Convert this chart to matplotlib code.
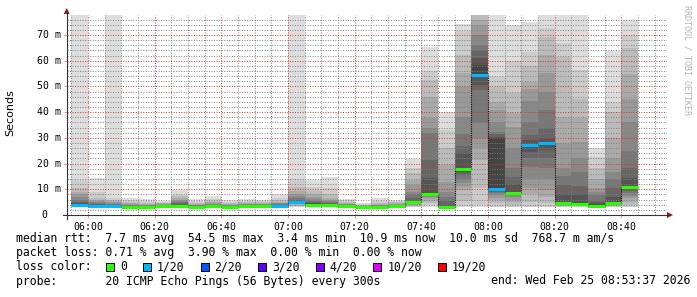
import numpy as np
import pandas as pd
import matplotlib
matplotlib.use("Agg")
import matplotlib.pyplot as plt
import matplotlib.dates as mdates
from matplotlib.patches import Rectangle, Polygon
from matplotlib.lines import Line2D
from matplotlib.ticker import MultipleLocator

# 20 sorted ping rtts (ms) per 5 min step, starting 05:55
first_step = "2026-02-25 05:55"
smoke = [
    [3.0, 3.2, 3.4, 3.5, 3.6, 3.7, 3.8, 3.8, 3.9, 3.9, 4.0, 4.5, 5.0, 6.0, 7.0, 8.0, 9.0, 10.5, 13.6, 80],
    [3.0, 3.2, 3.3, 3.4, 3.5, 3.5, 3.6, 3.6, 3.6, 3.6, 3.7, 3.9, 4.2, 4.5, 5.0, 5.5, 6.0, 6.5, 9.0, 14.4],
    [3.0, 3.2, 3.3, 3.4, 3.5, 3.5, 3.5, 3.6, 3.6, 3.6, 3.7, 3.8, 4.0, 4.3, 4.6, 5.0, 5.5, 6.0, 6.5, 80],
    [3.0, 3.0, 3.1, 3.1, 3.2, 3.2, 3.2, 3.3, 3.3, 3.3, 3.4, 3.5, 3.6, 3.8, 4.0, 4.3, 4.6, 5.0, 5.8, 6.6],
    [2.9, 3.0, 3.0, 3.1, 3.1, 3.1, 3.2, 3.2, 3.2, 3.2, 3.3, 3.4, 3.5, 3.6, 3.8, 4.0, 4.3, 4.8, 5.4, 6.1],
    [2.9, 3.0, 3.1, 3.2, 3.3, 3.3, 3.4, 3.4, 3.4, 3.5, 3.6, 3.7, 3.8, 3.9, 4.0, 4.2, 4.5, 4.8, 5.1, 5.4],
    [3.0, 3.1, 3.2, 3.3, 3.4, 3.4, 3.5, 3.5, 3.5, 3.5, 3.6, 4.0, 4.5, 5.0, 5.5, 6.0, 6.5, 7.2, 7.8, 9.7],
    [3.0, 3.0, 3.1, 3.1, 3.2, 3.2, 3.3, 3.3, 3.3, 3.3, 3.4, 3.5, 3.6, 3.7, 3.8, 4.0, 4.3, 4.8, 5.5, 6.2],
    [3.0, 3.1, 3.2, 3.2, 3.3, 3.3, 3.3, 3.4, 3.4, 3.4, 3.5, 3.6, 3.8, 4.0, 4.3, 4.6, 5.0, 5.5, 6.2, 7.4],
    [2.9, 3.0, 3.0, 3.1, 3.1, 3.1, 3.2, 3.2, 3.2, 3.2, 3.3, 3.4, 3.5, 3.6, 3.8, 4.0, 4.3, 4.7, 5.2, 5.8],
    [3.0, 3.1, 3.2, 3.2, 3.3, 3.3, 3.3, 3.4, 3.4, 3.4, 3.5, 3.6, 3.7, 3.9, 4.1, 4.4, 4.7, 5.1, 5.6, 6.2],
    [3.1, 3.2, 3.3, 3.4, 3.4, 3.5, 3.5, 3.5, 3.6, 3.6, 3.7, 3.8, 3.9, 4.0, 4.2, 4.4, 4.7, 5.0, 5.4, 5.8],
    [3.0, 3.1, 3.2, 3.3, 3.4, 3.4, 3.5, 3.5, 3.6, 3.6, 3.7, 3.8, 4.0, 4.2, 4.5, 4.8, 5.2, 5.8, 6.5, 8.2],
    [3.0, 3.3, 3.6, 4.0, 4.3, 4.6, 4.8, 5.0, 5.1, 5.2, 5.3, 5.6, 6.0, 6.6, 7.3, 8.2, 9.5, 11.0, 14.0, 80],
    [3.0, 3.2, 3.4, 3.5, 3.6, 3.7, 3.8, 3.9, 3.9, 4.0, 4.1, 4.5, 5.0, 5.5, 6.2, 7.0, 8.0, 9.5, 10.8, 13.6],
    [3.0, 3.2, 3.4, 3.5, 3.6, 3.7, 3.8, 3.9, 3.9, 4.0, 4.1, 4.3, 4.6, 5.0, 5.5, 6.0, 6.8, 8.0, 10.5, 14.9],
    [3.0, 3.0, 3.1, 3.2, 3.2, 3.3, 3.3, 3.4, 3.4, 3.5, 3.5, 3.6, 3.7, 3.9, 4.1, 4.4, 4.8, 5.2, 5.7, 6.3],
    [2.9, 3.0, 3.0, 3.0, 3.1, 3.1, 3.1, 3.1, 3.2, 3.2, 3.2, 3.3, 3.3, 3.4, 3.5, 3.6, 3.8, 4.0, 4.4, 4.8],
    [2.9, 3.0, 3.0, 3.0, 3.1, 3.1, 3.1, 3.1, 3.2, 3.2, 3.2, 3.3, 3.4, 3.5, 3.7, 3.9, 4.3, 4.8, 5.5, 6.5],
    [3.0, 3.1, 3.1, 3.2, 3.2, 3.3, 3.3, 3.4, 3.4, 3.4, 3.5, 3.6, 3.7, 3.8, 4.0, 4.2, 4.5, 4.9, 5.3, 5.8],
    [3.0, 3.2, 3.5, 3.8, 4.0, 4.2, 4.4, 4.6, 4.7, 4.8, 5.0, 5.5, 6.5, 8.0, 9.1, 11.7, 13.6, 16.2, 18.2, 21.8],
    [3.2, 3.8, 4.5, 5.5, 6.5, 7.0, 7.4, 7.8, 8.0, 8.2, 8.4, 14.3, 21.4, 31.8, 33.7, 37.6, 45.8, 52.5, 56.0, 65.5],
    [2.8, 2.9, 2.9, 3.0, 3.0, 3.1, 3.1, 3.1, 3.2, 3.2, 3.3, 4.0, 5.5, 7.1, 9.1, 13.0, 19.4, 25.9, 33.0, 39.9],
    [3.0, 3.5, 5.5, 9.7, 11.0, 12.5, 14.0, 15.6, 16.8, 17.9, 18.2, 24.0, 27.0, 31.5, 38.2, 49.9, 55.1, 62.2, 71.7, 74.3],
    [3.0, 3.9, 10.5, 21.4, 26.0, 30.0, 35.8, 48.6, 50.5, 53.7, 58.3, 61.0, 64.2, 66.1, 70.0, 73.9, 76.0, 77.8, 80, 82],
    [3.0, 3.2, 4.5, 5.8, 6.8, 7.8, 8.5, 9.0, 9.6, 10.0, 29.8, 30.5, 31.5, 32.4, 36.0, 40.8, 44.1, 49.9, 53.8, 80],
    [3.0, 3.2, 4.0, 5.0, 6.0, 7.1, 7.6, 8.0, 8.4, 8.6, 8.8, 12.0, 14.9, 18.2, 25.9, 34.4, 39.5, 47.3, 60.0, 73.9],
    [3.0, 3.2, 5.2, 8.0, 10.4, 14.0, 18.8, 22.0, 24.6, 26.5, 27.8, 29.0, 31.1, 36.3, 44.5, 49.0, 51.9, 58.0, 63.5, 75.2],
    [3.0, 3.2, 4.5, 7.0, 9.7, 14.0, 18.2, 22.0, 25.3, 27.5, 28.5, 30.0, 33.7, 40.8, 48.0, 55.1, 62.2, 69.4, 72.6, 80],
    [3.0, 3.2, 3.4, 3.6, 3.8, 4.0, 4.1, 4.2, 4.3, 4.4, 4.6, 8.0, 11.7, 15.0, 18.2, 28.0, 38.2, 61.6, 66.8, 80],
    [3.0, 3.2, 3.4, 3.6, 3.7, 3.8, 3.9, 4.0, 4.1, 4.2, 4.4, 8.0, 11.3, 16.8, 22.0, 28.5, 37.6, 45.0, 56.4, 80],
    [2.8, 2.9, 3.0, 3.1, 3.2, 3.2, 3.3, 3.4, 3.4, 3.5, 3.6, 4.5, 5.5, 7.8, 9.1, 10.4, 14.0, 18.2, 22.7, 25.9],
    [3.0, 3.2, 3.4, 3.6, 3.8, 4.0, 4.1, 4.2, 4.3, 4.4, 4.6, 7.0, 10.4, 14.0, 16.8, 22.0, 30.0, 40.2, 44.1, 63.9],
    [3.0, 3.2, 4.0, 5.0, 6.5, 7.5, 8.5, 9.5, 10.2, 10.7, 10.9, 14.3, 18.2, 25.0, 36.3, 45.0, 55.0, 64.8, 70.0, 75.8],
]
median_ms = [3.9, 3.6, 3.6, 3.3, 3.2, 3.5, 3.5, 3.3, 3.4, 3.2, 3.4, 3.6, 3.6, 5.2, 4.0, 4.0, 3.5,
             3.2, 3.2, 3.5, 4.9, 8.2, 3.2, 18.0, 54.5, 10.2, 8.7, 27.3, 28.1, 4.5, 4.3, 3.5, 4.5, 10.8]
lost = [1, 1, 1, 0, 0, 0, 0, 0, 0, 0, 0, 0, 1, 1, 0, 0, 0,
        0, 0, 0, 0, 0, 0, 0, 1, 1, 0, 1, 1, 0, 0, 0, 0, 0]

loss_levels = [0, 1, 2, 3, 4, 10, 19]
loss_labels = ["0", "1/20", "2/20", "3/20", "4/20", "10/20", "19/20"]
loss_colors = ["#26ff00", "#00b8ff", "#0059ff", "#5e00ff", "#7e00ff", "#dd00ff", "#ff0000"]

yticks = [0, 10, 20, 30, 40, 50, 60, 70]
ytick_labels = ["0", "10 m", "20 m", "30 m", "40 m", "50 m", "60 m", "70 m"]

legend_lines = [
    "median rtt:  7.7 ms avg  54.5 ms max  3.4 ms min  10.9 ms now  10.0 ms sd  768.7 m am/s",
    "packet loss: 0.71 % avg  3.90 % max  0.00 % min  0.00 % now",
    "loss color:",
    "probe:       20 ICMP Echo Pings (56 Bytes) every 300s",
]
end_text = "end: Wed Feb 25 08:53:37 2026"

W, H = 697, 297
mono = "DejaVu Sans Mono"


def px(x, y):
    return x / W, 1 - y / H


fig = plt.figure(figsize=(W / 100, H / 100), dpi=100)
ax = fig.add_axes([66.7 / W, 1 - 215 / H, 600 / W, 200 / H])

steps = pd.date_range(first_step, periods=len(smoke), freq="5min")
x0 = mdates.date2num(steps)
w = 5 / 1440
pings = np.array(smoke)
half = pings.shape[1] // 2

# smoke: nested bands, darker towards the middle (#dd outside .. #44 inside)
for ibot in range(1, half + 1):
    g = 221 - 17 * (ibot - 1)
    lo = pings[:, ibot - 1]
    hi = pings[:, pings.shape[1] - ibot]
    ax.bar(x0, hi - lo, bottom=lo, width=w, align="edge",
           color="#%02x%02x%02x" % (g, g, g), linewidth=0, zorder=1)

med = np.array(median_ms)
ax.vlines(x0[1:], med[:-1], med[1:], color="#111111", lw=0.8,
          linestyle=(0, (1, 1)), zorder=3)
cols = []
for n in lost:
    idx = max(i for i, lv in enumerate(loss_levels) if lv <= n)
    cols.append(loss_colors[idx])
ax.hlines(med, x0, x0 + w, colors=cols, lw=2.2, zorder=4, capstyle="butt")

t0 = pd.Timestamp("2026-02-25 05:53:37")
t1 = pd.Timestamp("2026-02-25 08:53:37")
ax.set_xlim(mdates.date2num(t0), mdates.date2num(t1))
ax.set_ylim(0, 200 / 2.5714)

ax.xaxis.set_major_locator(mdates.MinuteLocator(byminute=[0, 20, 40]))
ax.xaxis.set_minor_locator(mdates.MinuteLocator(byminute=range(0, 60, 5)))
ax.xaxis.set_major_formatter(mdates.DateFormatter("%H:%M"))
ax.yaxis.set_major_locator(MultipleLocator(10))
ax.yaxis.set_minor_locator(MultipleLocator(2))
ax.set_yticklabels([])

ax.set_axisbelow(False)
ax.grid(which="minor", color=(0.5, 0.5, 0.5, 0.32), lw=0.7, linestyle=(0, (1, 1.6)))
ax.grid(which="major", color=(0.85, 0.2, 0.2, 0.42), lw=0.7, linestyle=(0, (1, 1.6)))
for s in ax.spines.values():
    s.set_visible(False)
ax.tick_params(which="minor", length=0)
ax.tick_params(which="major", length=2.2, width=0.7, color=(0.9, 0.6, 0.6))
ax.tick_params(axis="x", labelsize=7.1, pad=3)
for lab in ax.get_xticklabels():
    lab.set_family(mono)

# y tick labels
for v, s in zip(yticks, ytick_labels):
    yy = 215 - v * 2.5714
    xr = 60.5 if s != "0" else 47.5
    fig.text(*px(xr, yy), s, family=mono, fontsize=7.1, ha="right", va="center")

fig.text(*px(10, 113), "Seconds", rotation=90, fontsize=8, ha="center", va="center")
fig.text(*px(687, 5), "RRDTOOL / TOBI OETIKER", rotation=270, family=mono,
         fontsize=6.0, color="#b4b4b4", ha="center", va="top")

# axis lines and arrows
fig.add_artist(Line2D([63 / W, 668 / W], [1 - 215 / H] * 2, color="#333333", lw=0.8))
fig.add_artist(Line2D([66.7 / W] * 2, [1 - 219 / H, 1 - 12 / H], color="#333333", lw=0.8))
arrow_c = "#8b1a1a"
fig.add_artist(Polygon([px(66.7, 8), px(63.7, 14), px(69.7, 14)], closed=True,
                       facecolor=arrow_c, edgecolor="none"))
fig.add_artist(Polygon([px(673, 215), px(667, 212), px(667, 218)], closed=True,
                       facecolor=arrow_c, edgecolor="none"))

# legend
cw = 8.3 / 72 * 100 * 0.602
base = [242, 256, 270, 284.5]
for line, yb in zip(legend_lines, base):
    fig.text(*px(16, yb), line, family=mono, fontsize=8.3, va="baseline")
fig.text(*px(690, base[3]), end_text, family=mono, fontsize=8.3, va="baseline", ha="right")

col = 13
for lab, c in zip(loss_labels, loss_colors):
    bx = 16 + col * cw
    fig.add_artist(Rectangle(px(bx, base[2] + 0.5), 8 / W, 8 / H, facecolor=c,
                             edgecolor="black", lw=0.7))
    fig.text(*px(16 + (col + 2) * cw, base[2]), lab, family=mono, fontsize=8.3, va="baseline")
    col += len(lab) + 4.3

fig.savefig("out.png", dpi=100)
